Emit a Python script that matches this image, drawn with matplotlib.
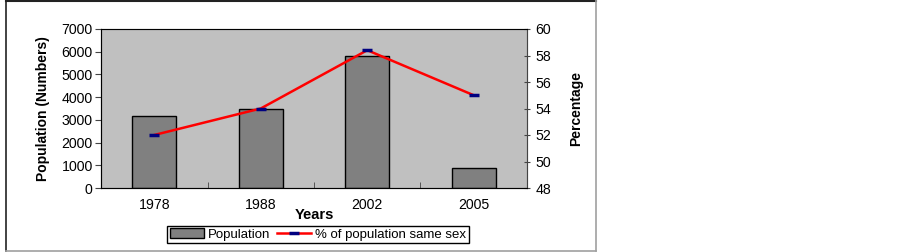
import matplotlib.pyplot as plt
from matplotlib.lines import Line2D

# --- Data ---
years = ['1978', '1988', '2002', '2005']
population = [3150, 3500, 5800, 900]
pct_same_sex = [52.0, 54.0, 58.4, 55.0]

plt.rcParams['font.family'] = ['Liberation Sans', 'DejaVu Sans']
plt.rcParams['font.size'] = 10.2

fig = plt.figure(figsize=(9.03, 2.52), dpi=100)
W, H = 903, 252

def px_line(x0, y0, x1, y1, color, lw):
    fig.lines.append(Line2D([x0 / W, x1 / W], [1 - y0 / H, 1 - y1 / H],
                            transform=fig.transFigure, color=color, lw=lw))

# outer chart frame (left part of the image only)
px_line(6, 0.8, 596, 0.8, '#222222', 1.5)
px_line(6, 0, 6, 250.5, '#222222', 1.2)
px_line(6, 250.5, 596, 250.5, '#a0a0a0', 1.2)
px_line(596, 0, 596, 250.5, '#a0a0a0', 1.2)

ax = fig.add_axes([101 / W, 1 - 188 / H, 426 / W, 159 / H])
ax.set_facecolor('#c0c0c0')

x = list(range(len(years)))
bars = ax.bar(x, population, width=0.41, color='#808080', edgecolor='black',
              linewidth=1.0, label='Population', zorder=2)
ax.set_xlim(-0.5, len(years) - 0.5)
ax.set_ylim(0, 7000)
ax.set_yticks(range(0, 7001, 1000))
ax.set_xticks(x)
ax.set_xticklabels(years)
ax.set_xticks([i + 0.5 for i in x[:-1]], minor=True)
ax.tick_params(axis='x', which='major', length=0, pad=7)
ax.tick_params(axis='x', which='minor', length=4, direction='in', color='#444444')
ax.tick_params(axis='y', length=4, direction='out', pad=2, color='#444444')
for s in ['top', 'right']:
    ax.spines[s].set_color('#888888')
ax.spines['left'].set_color('#444444')
ax.spines['bottom'].set_color('#444444')
ax.set_ylabel('Population (Numbers)', fontweight='bold', fontsize=10, labelpad=8)
ax.set_xlabel('Years', fontweight='bold', fontsize=10.5, labelpad=-3)

ax2 = ax.twinx()
line, = ax2.plot(x, pct_same_sex, color='red', lw=1.8, marker='_', markersize=7,
                 markeredgewidth=2.5, markeredgecolor='#000080',
                 label='% of population same sex', zorder=3)
ax2.set_ylim(48, 60)
ax2.set_yticks(range(48, 61, 2))
ax2.tick_params(axis='y', length=4, direction='inout', pad=4, color='#444444')
ax2.spines['right'].set_color('#444444')
ax2.set_ylabel('Percentage', fontweight='bold', fontsize=10, labelpad=13)

fig.legend([bars, line], ['Population', '% of population same sex'],
           loc='center', bbox_to_anchor=(318 / W, 1 - 234.5 / H), ncol=2,
           frameon=True, fancybox=False, edgecolor='black', framealpha=1,
           borderpad=0.2, handlelength=2.6, handletextpad=0.3, columnspacing=0.5,
           fontsize=9.5)

fig.savefig('out.png', dpi=100)
